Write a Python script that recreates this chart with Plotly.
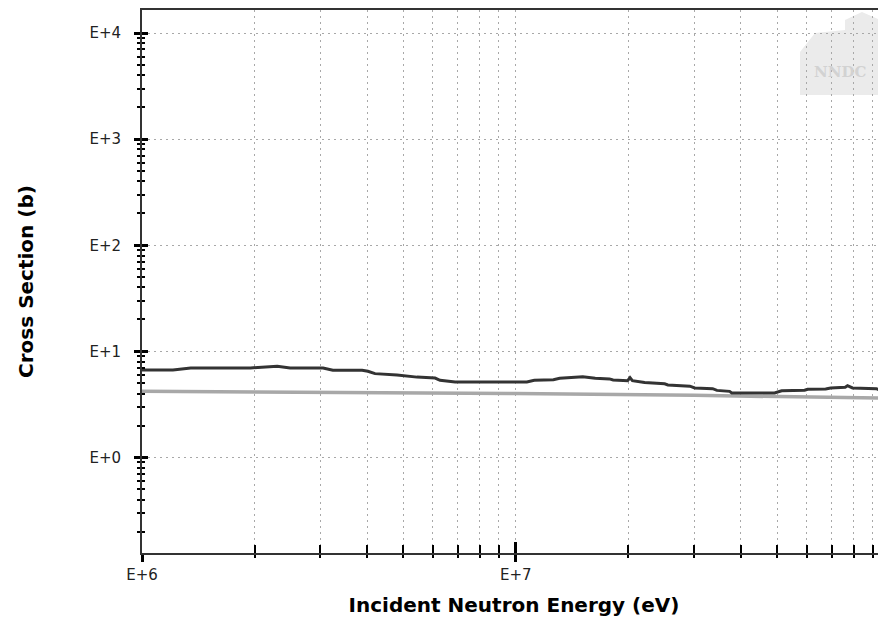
import plotly.graph_objects as go

# ---- data ----
dark_energy = [1.0e6, 1.21e6, 1.35e6, 1.95e6, 2.3e6, 2.49e6, 3.05e6, 3.24e6, 3.88e6, 4.02e6,
               4.2e6, 4.81e6, 5.44e6, 6.08e6, 6.27e6, 6.75e6, 6.88e6, 1.07e7, 1.12e7, 1.26e7,
               1.31e7, 1.51e7, 1.63e7, 1.78e7, 1.82e7, 1.99e7, 2.02e7, 2.05e7, 2.21e7, 2.50e7,
               2.55e7, 2.92e7, 3.01e7, 3.36e7, 3.45e7, 3.73e7, 3.78e7, 4.92e7, 5.14e7, 5.92e7,
               6.03e7, 6.74e7, 6.95e7, 7.6e7, 7.71e7, 7.95e7, 9.21e7, 9.38e7, 1.0e8]
dark_xs = [6.69, 6.69, 6.98, 6.98, 7.23, 6.98, 6.98, 6.63, 6.63, 6.49,
           6.17, 6.00, 5.72, 5.60, 5.34, 5.25, 5.15, 5.15, 5.34, 5.40,
           5.57, 5.78, 5.57, 5.50, 5.38, 5.30, 5.66, 5.30, 5.08, 4.95,
           4.83, 4.70, 4.52, 4.45, 4.29, 4.20, 4.06, 4.06, 4.26, 4.30,
           4.39, 4.42, 4.52, 4.60, 4.75, 4.52, 4.45, 4.33, 4.30]

gray_energy = [1.0e6, 3.0e6, 1.0e7, 3.0e7, 1.0e8]
gray_xs = [4.20, 4.11, 4.00, 3.85, 3.62]

x_major_vals = [1e6, 1e7, 1e8]
x_major_text = ["E+6", "E+7", "E+8"]
y_major_vals = [1e-1, 1e0, 1e1, 1e2, 1e3, 1e4]
y_major_text = ["E-1", "E+0", "E+1", "E+2", "E+3", "E+4"]
mantissas = [2, 3, 4, 5, 6, 7, 8, 9]
x_minor_vals = [m * d for d in [1e6, 1e7] for m in mantissas]
y_minor_vals = [m * d for d in [1e-1, 1e0, 1e1, 1e2, 1e3, 1e4] for m in mantissas]

x_title = "Incident Neutron Energy (eV)"
y_title = "Cross Section (b)"

# ---- figure ----
fig = go.Figure()
fig.add_trace(go.Scatter(x=gray_energy, y=gray_xs, mode="lines",
                         line=dict(color="#a8a8a8", width=3.5), showlegend=False, hoverinfo="skip"))
fig.add_trace(go.Scatter(x=dark_energy, y=dark_xs, mode="lines",
                         line=dict(color="#333333", width=3), showlegend=False, hoverinfo="skip"))
# invisible trace for overlay axes (inner half of crossing ticks)
fig.add_trace(go.Scatter(x=[], y=[], xaxis="x2", yaxis="y2", showlegend=False, hoverinfo="skip"))

tick_font = dict(family="DejaVu Sans", size=15, color="#222222")
title_font = dict(family="DejaVu Sans", size=20, color="black", weight="bold")
grid_color = "#a8a8a8"
grid_dash = "2px,4px"
xr = [6, 7.99]
yr = [-0.9, 4.217]

# the page body adds an 8px offset, so the figure is 878x614
fig.update_layout(
    width=878, height=614,
    margin=dict(l=134, r=0, t=2, b=69),
    paper_bgcolor="white", plot_bgcolor="white",
    xaxis=dict(
        type="log", range=xr, automargin=False,
        tickmode="array", tickvals=x_major_vals, ticktext=x_major_text,
        ticks="outside", ticklen=7, tickwidth=3, tickcolor="black",
        tickfont=tick_font, ticklabelstandoff=0,
        showline=True, linecolor="#333333", linewidth=2, mirror=True,
        showgrid=True, gridcolor=grid_color, gridwidth=1, griddash=grid_dash,
        minor=dict(tickmode="array", tickvals=x_minor_vals, ticks="outside", ticklen=3,
                   tickwidth=2, tickcolor="black", showgrid=True, gridcolor=grid_color,
                   gridwidth=1, griddash=grid_dash),
        title=dict(text=x_title, font=title_font, standoff=15),
        zeroline=False,
    ),
    yaxis=dict(
        type="log", range=yr, automargin=False,
        tickmode="array", tickvals=y_major_vals, ticktext=y_major_text,
        ticks="outside", ticklen=6, tickwidth=3, tickcolor="black",
        tickfont=tick_font, ticklabelstandoff=10,
        showline=True, linecolor="#333333", linewidth=2, mirror=False,
        showgrid=True, gridcolor=grid_color, gridwidth=1, griddash=grid_dash,
        minor=dict(tickmode="array", tickvals=y_minor_vals, ticks="outside", ticklen=3,
                   tickwidth=2, tickcolor="black", showgrid=False),
        title=dict(text=y_title, font=title_font, standoff=50),
        zeroline=False,
    ),
    xaxis2=dict(
        type="log", range=xr, overlaying="x", side="bottom", anchor="y", automargin=False,
        tickmode="array", tickvals=x_major_vals, showticklabels=False,
        ticks="inside", ticklen=11, tickwidth=3, tickcolor="black",
        showgrid=False, showline=False, zeroline=False,
        minor=dict(tickmode="array", tickvals=x_minor_vals, ticks="inside", ticklen=8,
                   tickwidth=2, tickcolor="black", showgrid=False),
    ),
    yaxis2=dict(
        type="log", range=yr, overlaying="y", side="left", anchor="x", automargin=False,
        tickmode="array", tickvals=y_major_vals, showticklabels=False,
        ticks="inside", ticklen=6, tickwidth=3, tickcolor="black",
        showgrid=False, showline=False, zeroline=False,
        minor=dict(tickmode="array", tickvals=y_minor_vals, ticks="inside", ticklen=3,
                   tickwidth=2, tickcolor="black", showgrid=False),
    ),
)

# faint NNDC watermark (decoration); coordinates in target-screen pixels
def px(xp):
    return (xp - 142) / 744

def py(yp):
    return (553 - yp) / 543

logo = [(800, 95), (800, 52), (815, 33), (845, 30), (845, 20), (862, 12), (880, 20), (880, 95)]
path = "M " + " L ".join(f"{px(a):.4f},{py(b):.4f}" for a, b in logo) + " Z"
fig.add_shape(type="path", path=path, xref="paper", yref="paper",
              fillcolor="#ebebeb", line=dict(width=0), layer="below")
fig.add_annotation(x=px(840), y=py(72), xref="paper", yref="paper", text="<b>NNDC</b>",
                   xanchor="center", yanchor="middle",
                   showarrow=False, font=dict(family="DejaVu Serif", size=15, color="#d2d2d2"))

fig.write_html("out.html")
